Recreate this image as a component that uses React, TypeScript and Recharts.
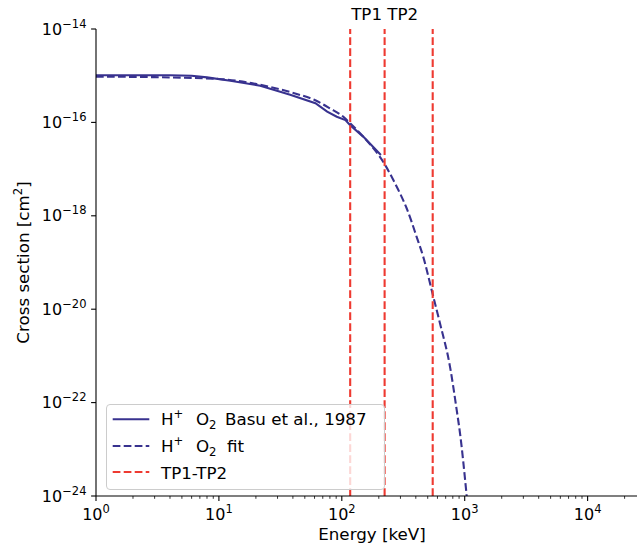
import React from 'react';
import { LineChart, Line, XAxis, YAxis, ReferenceLine, Legend } from 'recharts';

// Basu et al. 1987 tabulated H+ + O2 cross section (keV, cm^2)
const basuEnergy = [1, 2, 4, 6, 8, 12.4, 21.7, 38, 61, 76, 91, 107, 117, 150, 208];
const basuSigma = [
  1.02e-15, 1.02e-15, 1.02e-15, 1.0e-15, 9.2e-16, 7.8e-16, 6.1e-16, 3.9e-16,
  2.57e-16, 1.7e-16, 1.32e-16, 1.12e-16, 8.7e-17, 4.9e-17, 2.0e-17,
];

// analytic fit
const fitEnergy = [1, 3, 10, 26, 43, 59, 80, 103, 117, 150, 225, 262, 298, 337, 407, 460, 555, 629, 759, 861, 916, 1038];
const fitSigma = [
  9.55e-16, 9.3e-16, 8.5e-16, 5.75e-16, 4.07e-16, 3.09e-16, 2.0e-16, 1.32e-16,
  9.55e-17, 4.9e-17, 1.23e-17, 5.9e-18, 3.0e-18, 1.45e-18, 3.5e-19, 1.32e-19,
  1.86e-20, 5.0e-21, 5.9e-22, 6.9e-23, 2.2e-23, 1.0e-24,
];

// turning points
const tpEnergy = [117, 223, 549];

const xMajor = [1, 10, 100, 1000, 10000];
const xMajorLabels = ['0', '1', '2', '3', '4'];
const xMinor = [
  2, 3, 4, 5, 6, 7, 8, 9,
  20, 30, 40, 50, 60, 70, 80, 90,
  200, 300, 400, 500, 600, 700, 800, 900,
  2000, 3000, 4000, 5000, 6000, 7000, 8000, 9000,
  20000, 30000,
];
const yTicks = [1e-24, 1e-22, 1e-20, 1e-18, 1e-16, 1e-14];
const yTickLabels = ['\u221224', '\u221222', '\u221220', '\u221218', '\u221216', '\u221214'];

const basuData = basuEnergy.map((e, i) => ({ e, s: basuSigma[i] }));
const fitData = fitEnergy.map((e, i) => ({ e, s: fitSigma[i] }));

const FONT = "'DejaVu Sans', sans-serif";
const BLUE = '#38328f';
const RED = '#ee3a31';
const DASH = '7.7 3.3';

function XTick(props: any) {
  const { x, y, payload } = props;
  const idx = xMajor.indexOf(payload.value);
  const major = idx >= 0;
  return (
    <g>
      <line x1={x} x2={x} y1={y} y2={y + (major ? 4.9 : 2.8)} stroke="#000" strokeWidth={major ? 1.1 : 0.8} />
      {major && (
        <text x={x} y={y + 24} textAnchor="middle" fontSize={16} fontFamily={FONT} fill="#000">
          10
          <tspan fontSize={11.5} dy={-7}>{xMajorLabels[idx]}</tspan>
        </text>
      )}
    </g>
  );
}

function YTick(props: any) {
  const { x, y, payload } = props;
  const idx = yTicks.indexOf(payload.value);
  return (
    <g>
      <line x1={x - 4.9} x2={x} y1={y} y2={y} stroke="#000" strokeWidth={1.1} />
      <text x={x - 9.5} y={y + 5.5} textAnchor="end" fontSize={16} fontFamily={FONT} fill="#000">
        10
        <tspan fontSize={11.5} dy={-7}>{yTickLabels[idx]}</tspan>
      </text>
    </g>
  );
}

function XLabel(props: any) {
  const { viewBox } = props;
  return (
    <text x={viewBox.x + viewBox.width / 2} y={viewBox.y + 44} textAnchor="middle" fontSize={16.7} fontFamily={FONT} fill="#000">
      Energy [keV]
    </text>
  );
}

function YLabel(props: any) {
  const { viewBox } = props;
  const cx = 29;
  const cy = viewBox.y + viewBox.height / 2;
  return (
    <text x={cx} y={cy} textAnchor="middle" fontSize={16.7} fontFamily={FONT} fill="#000" transform={`rotate(-90, ${cx}, ${cy})`}>
      Cross section [cm
      <tspan fontSize={11.7} dy={-7}>2</tspan>
      <tspan dy={7}>]</tspan>
    </text>
  );
}

function TpLabel(props: any) {
  const { viewBox } = props;
  return (
    <text x={viewBox.x + 1} y={viewBox.y - 9} fontSize={16.7} fontFamily={FONT} fill="#000">
      TP1 TP2
    </text>
  );
}

function IonName({ y }: { y: number }) {
  return (
    <>
      <tspan x={55} y={y}>H</tspan>
      <tspan x={67.5} y={y - 7} fontSize={11.7}>+</tspan>
      <tspan x={90} y={y}>O</tspan>
      <tspan x={103} y={y + 4} fontSize={11.7}>2</tspan>
    </>
  );
}

function LegendBox() {
  return (
    <svg width={279} height={86} style={{ display: 'block' }}>
      <rect x={0.5} y={0.5} width={278} height={85} rx={3.5} fill="rgba(255,255,255,0.8)" stroke="#cccccc" strokeWidth={1} />
      <line x1={6.7} x2={43.3} y1={15.3} y2={15.3} stroke={BLUE} strokeWidth={2.1} />
      <line x1={6.7} x2={43.3} y1={42} y2={42} stroke={BLUE} strokeWidth={2.1} strokeDasharray={DASH} />
      <line x1={6.7} x2={43.3} y1={68} y2={68} stroke={RED} strokeWidth={2.1} strokeDasharray={DASH} />
      <text fontSize={16.7} fontFamily={FONT} fill="#000">
        <IonName y={21} />
        <tspan x={119} y={21}>Basu et al., 1987</tspan>
      </text>
      <text fontSize={16.7} fontFamily={FONT} fill="#000">
        <IonName y={48.3} />
        <tspan x={121} y={48.3}>fit</tspan>
      </text>
      <text x={55} y={74.8} fontSize={16.7} fontFamily={FONT} fill="#000">
        TP1-TP2
      </text>
    </svg>
  );
}

export default function App() {
  return (
    <div style={{ position: 'absolute', left: 0, top: 0, width: 637, height: 549, overflow: 'hidden', background: '#fff' }}>
      <LineChart width={648} height={549} margin={{ top: 29, right: 0, bottom: 0, left: 0 }}>
        <XAxis
          dataKey="e"
          type="number"
          scale="log"
          domain={[1, 31000]}
          allowDataOverflow
          ticks={[...xMajor, ...xMinor]}
          interval={0}
          height={53}
          tickLine={false}
          tickSize={0}
          tickMargin={0}
          tick={<XTick />}
          axisLine={{ stroke: '#000', strokeWidth: 1.1 }}
          label={<XLabel />}
        />
        <XAxis
          xAxisId="top"
          orientation="top"
          dataKey="e"
          type="number"
          scale="log"
          domain={[1, 31000]}
          allowDataOverflow
          height={0}
          tick={false}
          tickLine={false}
          axisLine={{ stroke: '#000', strokeWidth: 1.1 }}
        />
        <YAxis
          dataKey="s"
          type="number"
          scale="log"
          domain={[1e-24, 1e-14]}
          allowDataOverflow
          ticks={yTicks}
          interval={0}
          width={96}
          tickLine={false}
          tickSize={0}
          tickMargin={0}
          tick={<YTick />}
          axisLine={{ stroke: '#000', strokeWidth: 1.1 }}
          label={<YLabel />}
        />
        <Line
          data={basuData}
          dataKey="s"
          name="H+ O2 Basu et al., 1987"
          type="linear"
          stroke={BLUE}
          strokeWidth={2.1}
          dot={false}
          activeDot={false}
          isAnimationActive={false}
        />
        <Line
          data={fitData}
          dataKey="s"
          name="H+ O2 fit"
          type="monotone"
          stroke={BLUE}
          strokeWidth={2.1}
          strokeDasharray={DASH}
          dot={false}
          activeDot={false}
          isAnimationActive={false}
        />
        {tpEnergy.map((e, i) => (
          <ReferenceLine
            key={e}
            x={e}
            stroke={RED}
            strokeWidth={2.1}
            strokeDasharray={DASH}
            label={i === 0 ? <TpLabel /> : undefined}
          />
        ))}
        <Legend
          layout="vertical"
          align="center"
          verticalAlign="middle"
          wrapperStyle={{ left: 106, top: 404, width: 279, height: 86, margin: 0, padding: 0, zIndex: 2 }}
          content={() => <LegendBox />}
        />
      </LineChart>
    </div>
  );
}
